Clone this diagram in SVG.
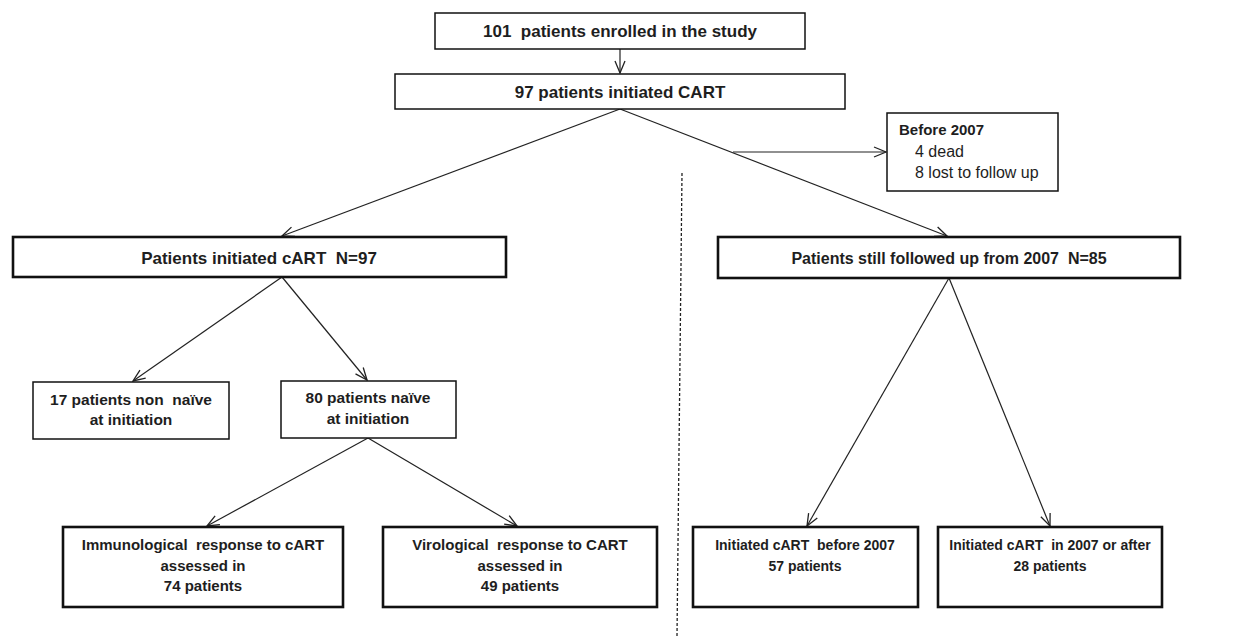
<svg xmlns="http://www.w3.org/2000/svg" width="1240" height="639" viewBox="0 0 1240 639">
<defs>
<marker id="arr" markerUnits="userSpaceOnUse" markerWidth="14" markerHeight="12" viewBox="0 0 14 12" refX="13" refY="6" orient="auto">
<path d="M1,1 L13,6 L1,11" fill="none" stroke="#222" stroke-width="1.3"/>
</marker>
<style>
.box{fill:#fff;stroke:#111;}
.thin{stroke-width:1.5;}
.thick{stroke-width:2.6;}
.t{font-family:"Liberation Sans",Arial,sans-serif;font-weight:bold;fill:#1e1e1e;text-anchor:middle;white-space:pre;}
.n{font-family:"Liberation Sans",Arial,sans-serif;fill:#1e1e1e;}
.ln{stroke:#222;stroke-width:1.2;fill:none;}
</style>
</defs>
<rect width="1240" height="639" fill="#fff"/>
<g id="connectors">
<line class="ln" x1="620" y1="49" x2="620" y2="73" marker-end="url(#arr)"/>
<line class="ln" x1="620" y1="109" x2="282" y2="236" marker-end="url(#arr)"/>
<line class="ln" x1="620" y1="109" x2="947" y2="236" marker-end="url(#arr)"/>
<line class="ln" x1="733" y1="152" x2="886" y2="152" marker-end="url(#arr)"/>
<line class="ln" x1="282" y1="277" x2="133" y2="381" marker-end="url(#arr)"/>
<line class="ln" x1="282" y1="277" x2="367" y2="380" marker-end="url(#arr)"/>
<line class="ln" x1="368" y1="438" x2="207" y2="526" marker-end="url(#arr)"/>
<line class="ln" x1="368" y1="438" x2="517" y2="526" marker-end="url(#arr)"/>
<line class="ln" x1="949" y1="278" x2="807" y2="526" marker-end="url(#arr)"/>
<line class="ln" x1="949" y1="278" x2="1050" y2="526" marker-end="url(#arr)"/>
<line x1="682" y1="173" x2="677" y2="636" stroke="#222" stroke-width="1.3" stroke-dasharray="3,2"/>
</g>
<g id="enrolled">
<rect class="box thin" x="435" y="13" width="370" height="36"/>
<text class="t" x="620" y="37" font-size="17" xml:space="preserve">101  patients enrolled in the study</text>
</g>
<g id="initiated">
<rect class="box thin" x="395" y="74" width="450" height="35"/>
<text class="t" x="620" y="98" font-size="17">97 patients initiated CART</text>
</g>
<g id="before2007">
<rect class="box thin" x="887" y="113" width="171" height="78"/>
<text class="n" x="899" y="135" font-size="15" font-weight="bold">Before 2007</text>
<text class="n" x="915" y="157" font-size="16">4 dead</text>
<text class="n" x="915" y="178" font-size="16">8 lost to follow up</text>
</g>
<g id="initiatedN97">
<rect class="box thick" x="13" y="237" width="493" height="40"/>
<text class="t" x="259" y="264" font-size="17" xml:space="preserve">Patients initiated cART  N=97</text>
</g>
<g id="followedN85">
<rect class="box thick" x="718" y="237" width="462" height="41"/>
<text class="t" x="949" y="264" font-size="16" xml:space="preserve">Patients still followed up from 2007  N=85</text>
</g>
<g id="nonnaive">
<rect class="box thin" x="33" y="382" width="196" height="57"/>
<text class="t" x="131" y="405" font-size="15.5" xml:space="preserve">17 patients non  naïve</text>
<text class="t" x="131" y="425" font-size="15.5">at initiation</text>
</g>
<g id="naive">
<rect class="box thin" x="281" y="381" width="175" height="57"/>
<text class="t" x="368" y="403" font-size="15.5">80 patients naïve</text>
<text class="t" x="368" y="424" font-size="15.5">at initiation</text>
</g>
<g id="immuno">
<rect class="box thick" x="63" y="527" width="280" height="80"/>
<text class="t" x="203" y="550" font-size="15" xml:space="preserve">Immunological  response to cART</text>
<text class="t" x="203" y="571" font-size="15">assessed in</text>
<text class="t" x="203" y="591" font-size="15">74 patients</text>
</g>
<g id="viro">
<rect class="box thick" x="383" y="527" width="274" height="80"/>
<text class="t" x="520" y="550" font-size="15" xml:space="preserve">Virological  response to CART</text>
<text class="t" x="520" y="571" font-size="15">assessed in</text>
<text class="t" x="520" y="591" font-size="15">49 patients</text>
</g>
<g id="before">
<rect class="box thick" x="693" y="527" width="225" height="80"/>
<text class="t" x="805" y="550" font-size="14" xml:space="preserve">Initiated cART  before 2007</text>
<text class="t" x="805" y="571" font-size="14">57 patients</text>
</g>
<g id="after">
<rect class="box thick" x="938" y="527" width="224" height="80"/>
<text class="t" x="1050" y="550" font-size="14" xml:space="preserve">Initiated cART  in 2007 or after</text>
<text class="t" x="1050" y="571" font-size="14">28 patients</text>
</g>
</svg>
